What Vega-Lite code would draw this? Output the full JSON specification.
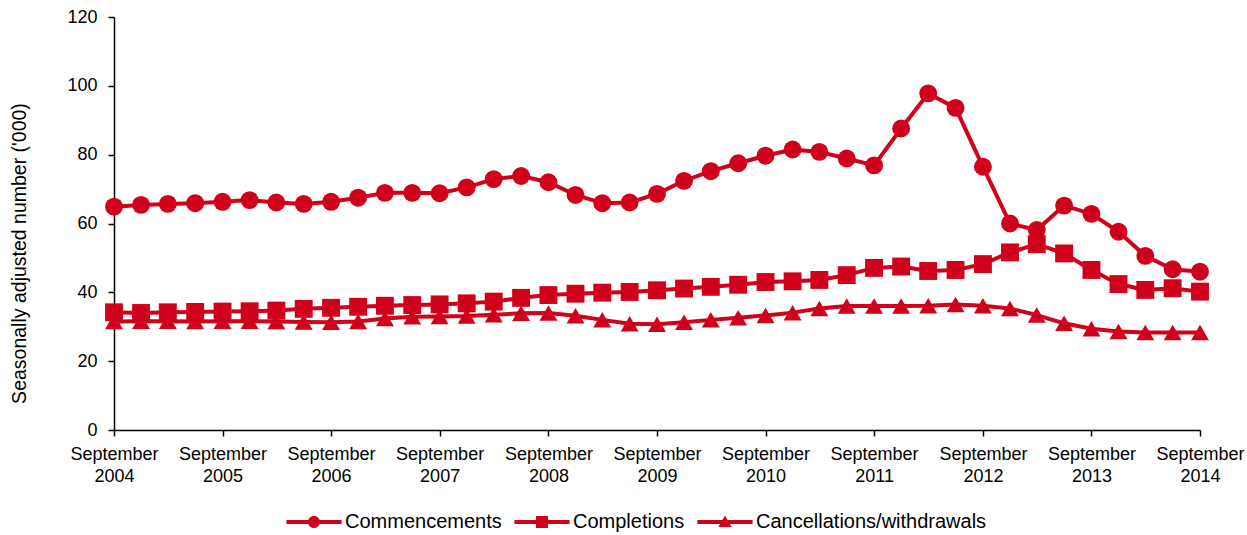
{
  "$schema": "https://vega.github.io/schema/vega-lite/v6.json",
  "width": 1086,
  "height": 413,
  "autosize": {"type": "none"},
  "padding": {"left": 114, "top": 17, "right": 47, "bottom": 105},
  "background": "white",
  "config": {
    "view": {"stroke": null},
    "font": "Liberation Sans",
    "axis": {
      "grid": false,
      "domainColor": "#000000",
      "tickColor": "#000000",
      "labelColor": "#000000",
      "titleColor": "#000000",
      "domainWidth": 1.5,
      "tickWidth": 1.5,
      "tickSize": 6,
      "labelFont": "Liberation Sans",
      "titleFont": "Liberation Sans",
      "labelFontSize": 18,
      "titleFontWeight": "normal"
    }
  },
  "data": {
    "values": [
      {"date": "2004-09-01", "Commencements": 64.9, "Completions": 34.2, "Cancellations/withdrawals": 31.5},
      {"date": "2004-12-01", "Commencements": 65.4, "Completions": 34.0, "Cancellations/withdrawals": 31.6},
      {"date": "2005-03-01", "Commencements": 65.7, "Completions": 34.2, "Cancellations/withdrawals": 31.6},
      {"date": "2005-06-01", "Commencements": 65.9, "Completions": 34.3, "Cancellations/withdrawals": 31.5},
      {"date": "2005-09-01", "Commencements": 66.3, "Completions": 34.4, "Cancellations/withdrawals": 31.6},
      {"date": "2005-12-01", "Commencements": 66.8, "Completions": 34.5, "Cancellations/withdrawals": 31.6},
      {"date": "2006-03-01", "Commencements": 66.1, "Completions": 34.7, "Cancellations/withdrawals": 31.5},
      {"date": "2006-06-01", "Commencements": 65.7, "Completions": 35.2, "Cancellations/withdrawals": 31.4},
      {"date": "2006-09-01", "Commencements": 66.3, "Completions": 35.5, "Cancellations/withdrawals": 31.3},
      {"date": "2006-12-01", "Commencements": 67.5, "Completions": 35.8, "Cancellations/withdrawals": 31.5},
      {"date": "2007-03-01", "Commencements": 68.9, "Completions": 36.1, "Cancellations/withdrawals": 32.4},
      {"date": "2007-06-01", "Commencements": 68.9, "Completions": 36.3, "Cancellations/withdrawals": 32.9},
      {"date": "2007-09-01", "Commencements": 68.8, "Completions": 36.5, "Cancellations/withdrawals": 33.0},
      {"date": "2007-12-01", "Commencements": 70.5, "Completions": 36.8, "Cancellations/withdrawals": 33.1},
      {"date": "2008-03-01", "Commencements": 72.9, "Completions": 37.3, "Cancellations/withdrawals": 33.5},
      {"date": "2008-06-01", "Commencements": 73.8, "Completions": 38.4, "Cancellations/withdrawals": 33.9},
      {"date": "2008-09-01", "Commencements": 72.0, "Completions": 39.2, "Cancellations/withdrawals": 34.0},
      {"date": "2008-12-01", "Commencements": 68.3, "Completions": 39.6, "Cancellations/withdrawals": 33.2},
      {"date": "2009-03-01", "Commencements": 65.9, "Completions": 39.9, "Cancellations/withdrawals": 32.0},
      {"date": "2009-06-01", "Commencements": 66.1, "Completions": 40.1, "Cancellations/withdrawals": 30.9},
      {"date": "2009-09-01", "Commencements": 68.6, "Completions": 40.6, "Cancellations/withdrawals": 30.7},
      {"date": "2009-12-01", "Commencements": 72.4, "Completions": 41.1, "Cancellations/withdrawals": 31.3},
      {"date": "2010-03-01", "Commencements": 75.2, "Completions": 41.6, "Cancellations/withdrawals": 32.0},
      {"date": "2010-06-01", "Commencements": 77.5, "Completions": 42.2, "Cancellations/withdrawals": 32.6},
      {"date": "2010-09-01", "Commencements": 79.7, "Completions": 43.0, "Cancellations/withdrawals": 33.3},
      {"date": "2010-12-01", "Commencements": 81.5, "Completions": 43.2, "Cancellations/withdrawals": 34.1},
      {"date": "2011-03-01", "Commencements": 80.8, "Completions": 43.6, "Cancellations/withdrawals": 35.3},
      {"date": "2011-06-01", "Commencements": 78.9, "Completions": 45.0, "Cancellations/withdrawals": 36.0},
      {"date": "2011-09-01", "Commencements": 76.9, "Completions": 47.1, "Cancellations/withdrawals": 36.0},
      {"date": "2011-12-01", "Commencements": 87.6, "Completions": 47.5, "Cancellations/withdrawals": 36.0},
      {"date": "2012-03-01", "Commencements": 97.8, "Completions": 46.2, "Cancellations/withdrawals": 36.1},
      {"date": "2012-06-01", "Commencements": 93.6, "Completions": 46.5, "Cancellations/withdrawals": 36.5},
      {"date": "2012-09-01", "Commencements": 76.5, "Completions": 48.2, "Cancellations/withdrawals": 36.1},
      {"date": "2012-12-01", "Commencements": 60.0, "Completions": 51.6, "Cancellations/withdrawals": 35.3},
      {"date": "2013-03-01", "Commencements": 58.1, "Completions": 54.0, "Cancellations/withdrawals": 33.4},
      {"date": "2013-06-01", "Commencements": 65.2, "Completions": 51.3, "Cancellations/withdrawals": 31.0},
      {"date": "2013-09-01", "Commencements": 62.8, "Completions": 46.5, "Cancellations/withdrawals": 29.4},
      {"date": "2013-12-01", "Commencements": 57.6, "Completions": 42.4, "Cancellations/withdrawals": 28.6},
      {"date": "2014-03-01", "Commencements": 50.6, "Completions": 40.7, "Cancellations/withdrawals": 28.3},
      {"date": "2014-06-01", "Commencements": 46.7, "Completions": 41.2, "Cancellations/withdrawals": 28.3},
      {"date": "2014-09-01", "Commencements": 46.0, "Completions": 40.2, "Cancellations/withdrawals": 28.3}
    ]
  },
  "transform": [
    {"fold": ["Commencements", "Completions", "Cancellations/withdrawals"], "as": ["series", "value"]}
  ],
  "encoding": {
    "x": {
      "field": "date",
      "type": "temporal",
      "scale": {
        "type": "utc",
        "domain": [
          {"year": 2004, "month": 9, "date": 1, "utc": true},
          {"year": 2014, "month": 9, "date": 1, "utc": true}
        ]
      },
      "axis": {
        "title": null,
        "values": [
          {"year": 2004, "month": 9, "date": 1, "utc": true},
          {"year": 2005, "month": 9, "date": 1, "utc": true},
          {"year": 2006, "month": 9, "date": 1, "utc": true},
          {"year": 2007, "month": 9, "date": 1, "utc": true},
          {"year": 2008, "month": 9, "date": 1, "utc": true},
          {"year": 2009, "month": 9, "date": 1, "utc": true},
          {"year": 2010, "month": 9, "date": 1, "utc": true},
          {"year": 2011, "month": 9, "date": 1, "utc": true},
          {"year": 2012, "month": 9, "date": 1, "utc": true},
          {"year": 2013, "month": 9, "date": 1, "utc": true},
          {"year": 2014, "month": 9, "date": 1, "utc": true}
        ],
        "labelExpr": "['September', utcFormat(datum.value, '%Y')]",
        "labelLineHeight": 22,
        "labelPadding": 9,
        "labelOverlap": false,
        "labelFlush": false
      }
    },
    "y": {
      "field": "value",
      "type": "quantitative",
      "scale": {"domain": [0, 120]},
      "axis": {
        "title": "Seasonally adjusted number ('000)",
        "values": [0, 20, 40, 60, 80, 100, 120],
        "labelPadding": 11,
        "titleFontSize": 19.5,
        "titleX": -85,
        "titleY": 236
      }
    }
  },
  "layer": [
    {
      "mark": {"type": "line", "color": "#D0011B", "strokeWidth": 4, "strokeJoin": "round"},
      "encoding": {"detail": {"field": "series"}}
    },
    {
      "mark": {"type": "point", "filled": true, "color": "#D0011B", "opacity": 1, "size": 320},
      "encoding": {
        "shape": {
          "field": "series",
          "type": "nominal",
          "scale": {
            "domain": ["Commencements", "Completions", "Cancellations/withdrawals"],
            "range": ["circle", "square", "triangle-up"]
          },
          "legend": null
        }
      }
    },
    {
      "transform": [{"filter": "datum.value < 0"}],
      "mark": {"type": "point", "filled": true, "color": "#D0011B", "opacity": 1},
      "encoding": {
        "shape": {
          "field": "series",
          "type": "nominal",
          "scale": {
            "domain": ["Commencements", "Completions", "Cancellations/withdrawals"],
            "range": [
              "M-4.6,-0.33H4.6V0.33H-4.6Z M-1,0A1,1 0 1,1 1,0A1,1 0 1,1 -1,0Z",
              "M-4.6,-0.33H4.6V0.33H-4.6Z M-1,-1H1V1H-1Z",
              "M-4.6,-0.33H4.6V0.33H-4.6Z M0,-1.1L1.1,0.85L-1.1,0.85Z"
            ]
          },
          "legend": {
            "title": null,
            "orient": "none",
            "direction": "horizontal",
            "legendX": 190,
            "legendY": 495,
            "padding": 0,
            "labelFont": "Liberation Sans",
            "labelFontSize": 20,
            "labelColor": "#000000",
            "labelLimit": 500,
            "symbolSize": 144,
            "labelOffset": 21,
            "columnPadding": 12,
            "symbolFillColor": "#D0011B",
            "symbolStrokeWidth": 0,
            "symbolOpacity": 1
          }
        }
      }
    }
  ],
  "resolve": {"scale": {"shape": "independent"}, "legend": {"shape": "independent"}}
}
